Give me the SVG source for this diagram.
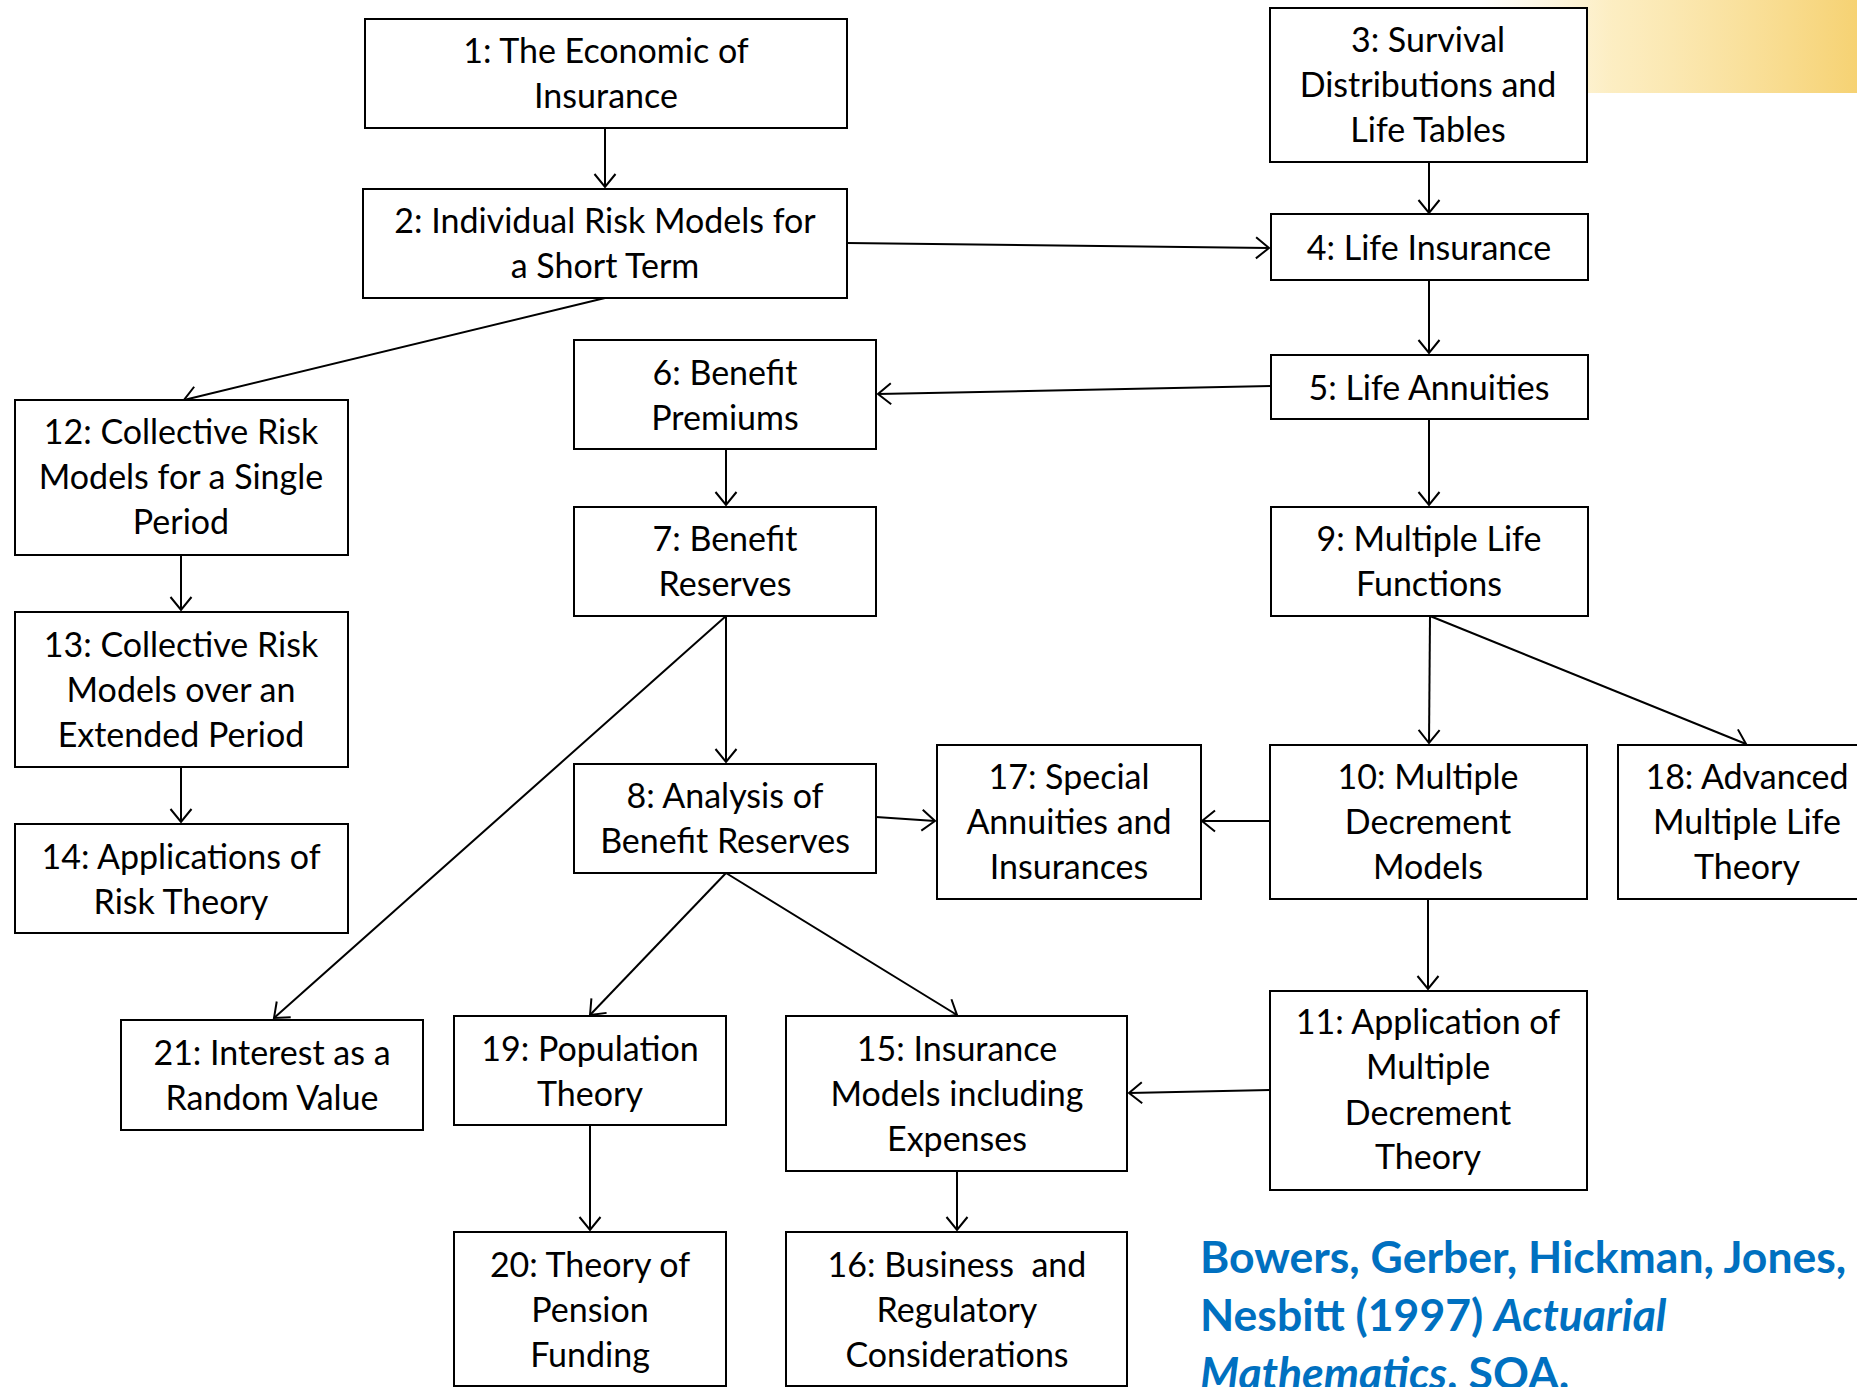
<svg xmlns="http://www.w3.org/2000/svg" width="1857" height="1387" viewBox="0 0 1857 1387">
<style>
.box{fill:#fff;stroke:#000;stroke-width:2}
.t{font-family:Lato,"Open Sans","Liberation Sans",sans-serif;font-size:34px;fill:#000;text-anchor:middle}
.c{stroke:#000;stroke-width:2;fill:none;marker-end:url(#ah)}
.cite{font-family:Lato,"Open Sans","Liberation Sans",sans-serif;font-size:44.5px;font-weight:bold;fill:#0070C0}
</style>
<defs>
<marker id="ah" markerUnits="userSpaceOnUse" markerWidth="16" markerHeight="24" viewBox="0 0 16 24" refX="14" refY="12" orient="auto">
<path d="M1,1.5 L14,12 L1,22.5" fill="none" stroke="#000" stroke-width="2"/>
</marker>
<linearGradient id="gold" x1="0" y1="0" x2="1" y2="0">
<stop offset="0" stop-color="#FCE9B0" stop-opacity="0"/>
<stop offset="0.35" stop-color="#FBE6A8" stop-opacity="0.7"/>
<stop offset="1" stop-color="#F6D273"/>
</linearGradient>
</defs>
<rect width="1857" height="1387" fill="#fff"/>
<rect x="1480" y="0" width="377" height="93" fill="url(#gold)"/>

<g id="connectors">
<line class="c" x1="605" y1="128" x2="605" y2="187"/>
<line class="c" x1="847" y1="243" x2="1269" y2="248"/>
<line class="c" x1="605" y1="298" x2="184" y2="400"/>
<line class="c" x1="1429" y1="162" x2="1429" y2="213"/>
<line class="c" x1="1429" y1="280" x2="1429" y2="353"/>
<line class="c" x1="1271" y1="386" x2="878" y2="394"/>
<line class="c" x1="1429" y1="419" x2="1429" y2="505"/>
<line class="c" x1="726" y1="449" x2="726" y2="505"/>
<line class="c" x1="726" y1="616" x2="726" y2="762"/>
<line class="c" x1="726" y1="616" x2="274" y2="1018"/>
<line class="c" x1="1430" y1="616" x2="1429" y2="743"/>
<line class="c" x1="1430" y1="616" x2="1746" y2="744"/>
<line class="c" x1="1270" y1="821" x2="1202" y2="821"/>
<line class="c" x1="1428" y1="899" x2="1428" y2="989"/>
<line class="c" x1="876" y1="817" x2="935" y2="821"/>
<line class="c" x1="726" y1="873" x2="590" y2="1015"/>
<line class="c" x1="726" y1="873" x2="957" y2="1015"/>
<line class="c" x1="1270" y1="1090" x2="1129" y2="1093"/>
<line class="c" x1="590" y1="1125" x2="590" y2="1230"/>
<line class="c" x1="957" y1="1171" x2="957" y2="1230"/>
<line class="c" x1="181" y1="555" x2="181" y2="610"/>
<line class="c" x1="181" y1="767" x2="181" y2="822"/>
</g>

<g id="n1"><rect class="box" x="365" y="19" width="482" height="109"/><text class="t" x="606" y="63">1: The Economic of</text><text class="t" x="606" y="108">Insurance</text></g>
<g id="n2"><rect class="box" x="363" y="189" width="484" height="109"/><text class="t" x="605" y="233">2: Individual Risk Models for</text><text class="t" x="605" y="278">a Short Term</text></g>
<g id="n3"><rect class="box" x="1270" y="8" width="317" height="154"/><text class="t" x="1428" y="52">3: Survival</text><text class="t" x="1428" y="97">Distributions and</text><text class="t" x="1428" y="142">Life Tables</text></g>
<g id="n4"><rect class="box" x="1271" y="214" width="317" height="66"/><text class="t" x="1429" y="260">4: Life Insurance</text></g>
<g id="n5"><rect class="box" x="1271" y="355" width="317" height="64"/><text class="t" x="1429" y="400">5: Life Annuities</text></g>
<g id="n6"><rect class="box" x="574" y="340" width="302" height="109"/><text class="t" x="725" y="385">6: Benefit</text><text class="t" x="725" y="430">Premiums</text></g>
<g id="n7"><rect class="box" x="574" y="507" width="302" height="109"/><text class="t" x="725" y="551">7: Benefit</text><text class="t" x="725" y="596">Reserves</text></g>
<g id="n8"><rect class="box" x="574" y="764" width="302" height="109"/><text class="t" x="725" y="808">8: Analysis of</text><text class="t" x="725" y="853">Benefit Reserves</text></g>
<g id="n9"><rect class="box" x="1271" y="507" width="317" height="109"/><text class="t" x="1429" y="551">9: Multiple Life</text><text class="t" x="1429" y="596">Functions</text></g>
<g id="n10"><rect class="box" x="1270" y="745" width="317" height="154"/><text class="t" x="1428" y="789">10: Multiple</text><text class="t" x="1428" y="834">Decrement</text><text class="t" x="1428" y="879">Models</text></g>
<g id="n11"><rect class="box" x="1270" y="991" width="317" height="199"/><text class="t" x="1428" y="1034">11: Application of</text><text class="t" x="1428" y="1079">Multiple</text><text class="t" x="1428" y="1125">Decrement</text><text class="t" x="1428" y="1169">Theory</text></g>
<g id="n12"><rect class="box" x="15" y="400" width="333" height="155"/><text class="t" x="181" y="444">12: Collective Risk</text><text class="t" x="181" y="489">Models for a Single</text><text class="t" x="181" y="534">Period</text></g>
<g id="n13"><rect class="box" x="15" y="612" width="333" height="155"/><text class="t" x="181" y="657">13: Collective Risk</text><text class="t" x="181" y="702">Models over an</text><text class="t" x="181" y="747">Extended Period</text></g>
<g id="n14"><rect class="box" x="15" y="824" width="333" height="109"/><text class="t" x="181" y="869">14: Applications of</text><text class="t" x="181" y="914">Risk Theory</text></g>
<g id="n15"><rect class="box" x="786" y="1016" width="341" height="155"/><text class="t" x="957" y="1061">15: Insurance</text><text class="t" x="957" y="1106">Models including</text><text class="t" x="957" y="1151">Expenses</text></g>
<g id="n16"><rect class="box" x="786" y="1232" width="341" height="154"/><text class="t" x="957" y="1277">16: Business&#160; and</text><text class="t" x="957" y="1322">Regulatory</text><text class="t" x="957" y="1367">Considerations</text></g>
<g id="n17"><rect class="box" x="937" y="745" width="264" height="154"/><text class="t" x="1069" y="789">17: Special</text><text class="t" x="1069" y="834">Annuities and</text><text class="t" x="1069" y="879">Insurances</text></g>
<g id="n18"><rect class="box" x="1618" y="745" width="259" height="154"/><text class="t" x="1747" y="789">18: Advanced</text><text class="t" x="1747" y="834">Multiple Life</text><text class="t" x="1747" y="879">Theory</text></g>
<g id="n19"><rect class="box" x="454" y="1016" width="272" height="109"/><text class="t" x="590" y="1061">19: Population</text><text class="t" x="590" y="1106">Theory</text></g>
<g id="n20"><rect class="box" x="454" y="1232" width="272" height="154"/><text class="t" x="590" y="1277">20: Theory of</text><text class="t" x="590" y="1322">Pension</text><text class="t" x="590" y="1367">Funding</text></g>
<g id="n21"><rect class="box" x="121" y="1020" width="302" height="110"/><text class="t" x="272" y="1065">21: Interest as a</text><text class="t" x="272" y="1110">Random Value</text></g>

<g id="citation">
<text class="cite" x="1200" y="1273">Bowers, Gerber, Hickman, Jones,</text>
<text class="cite" x="1200" y="1331">Nesbitt (1997) <tspan font-style="italic">Actuarial</tspan></text>
<text class="cite" x="1200" y="1389"><tspan font-style="italic">Mathematics</tspan>. SOA.</text>
</g>
</svg>
